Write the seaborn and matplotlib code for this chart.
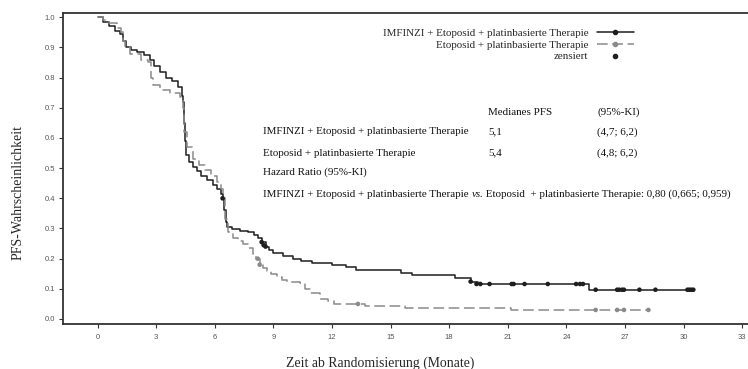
import numpy as np
import pandas as pd
import matplotlib.pyplot as plt
import seaborn as sns
from matplotlib.lines import Line2D

# IMFINZI + Etoposid + platinbasierte Therapie: KM step points (months, PFS)
imf_t = [0, 0.3, 0.6, 0.9, 1.15, 1.3, 1.45, 1.7, 2.0, 2.4, 2.7, 2.9, 3.2, 3.5, 3.8,
         4.1, 4.3, 4.38, 4.45, 4.5, 4.55, 4.7, 4.9, 5.1, 5.3, 5.6, 5.9, 6.1, 6.3,
         6.42, 6.48, 6.55, 6.65, 6.9, 7.3, 7.7, 8.0, 8.2, 8.4, 8.6, 8.8, 9.0, 9.5,
         10.0, 10.4, 11.0, 12.0, 12.7, 13.25, 15.55, 16.1, 18.3, 19.1, 19.5, 25.15, 30.55]
imf_s = [1.0, 0.985, 0.97, 0.955, 0.945, 0.92, 0.90, 0.89, 0.885, 0.875, 0.86, 0.84,
         0.82, 0.80, 0.79, 0.77, 0.74, 0.72, 0.65, 0.59, 0.545, 0.52, 0.505, 0.49,
         0.475, 0.46, 0.445, 0.43, 0.415, 0.40, 0.36, 0.32, 0.305, 0.297, 0.293,
         0.288, 0.28, 0.27, 0.255, 0.24, 0.228, 0.218, 0.21, 0.20, 0.192, 0.186,
         0.179, 0.171, 0.162, 0.151, 0.146, 0.135, 0.124, 0.116, 0.097, 0.097]
imf_cens_t = [6.4, 8.4, 8.5, 8.6, 19.1, 19.4, 19.6, 20.07, 21.2, 21.3, 21.86, 23.05,
              24.5, 24.7, 24.85, 25.5, 26.6, 26.7, 26.85, 26.95, 27.74, 28.56,
              30.2, 30.3, 30.4, 30.5]
imf_cens_s = [0.40, 0.255, 0.245, 0.24, 0.124, 0.116, 0.116, 0.116, 0.116, 0.116,
              0.116, 0.116, 0.116, 0.116, 0.116, 0.097, 0.097, 0.097, 0.097, 0.097,
              0.097, 0.097, 0.097, 0.097, 0.097, 0.097]

# Etoposid + platinbasierte Therapie
eto_t = [0, 0.3, 0.6, 0.97, 1.2, 1.3, 1.4, 1.65, 2.2, 2.6, 2.75, 2.85, 3.2, 3.7, 4.2,
         4.35, 4.45, 4.6, 4.9, 5.2, 5.5, 5.8, 6.1, 6.3, 6.4, 6.5, 6.7, 6.95, 7.2,
         7.45, 7.7, 7.95, 8.1, 8.3, 8.45, 8.65, 8.9, 9.2, 9.45, 9.7, 10.35, 10.6,
         10.9, 11.4, 11.8, 12.1, 13.67, 15.75, 21.15, 28.2]
eto_s = [1.0, 0.99, 0.98, 0.965, 0.95, 0.92, 0.90, 0.88, 0.86, 0.852, 0.80, 0.775,
         0.76, 0.748, 0.737, 0.70, 0.62, 0.57, 0.53, 0.51, 0.495, 0.475, 0.455,
         0.43, 0.40, 0.33, 0.29, 0.27, 0.26, 0.25, 0.235, 0.215, 0.20, 0.18, 0.17,
         0.16, 0.15, 0.14, 0.13, 0.124, 0.118, 0.10, 0.085, 0.065, 0.058, 0.05,
         0.044, 0.035, 0.03, 0.03]
eto_cens_t = [8.2, 8.3, 13.33, 25.5, 26.6, 26.95, 28.2]
eto_cens_s = [0.20, 0.18, 0.05, 0.03, 0.03, 0.03, 0.03]

x_ticks = list(range(0, 34, 3))
y_ticks = [0.0, 0.1, 0.2, 0.3, 0.4, 0.5, 0.6, 0.7, 0.8, 0.9, 1.0]

arm_labels = ["IMFINZI + Etoposid + platinbasierte Therapie",
              "Etoposid + platinbasierte Therapie", "zensiert"]
table_header = ["Medianes PFS", "(95%-KI)"]
table_median = ["5,1", "5,4"]
table_ci = ["(4,7; 6,2)", "(4,8; 6,2)"]

BLACK = "#1e1e1e"
GREY = "#8a8a8a"
SERIF = ["Liberation Serif", "DejaVu Serif"]
FS = 7.9

sns.set_style("ticks")
plt.rcParams["font.family"] = ["Liberation Sans", "DejaVu Sans"]

fig = plt.figure(figsize=(7.48, 3.69), dpi=100)
W, H = 748, 369
ax = fig.add_axes([63 / W, 1 - 324 / H, 1 - 63 / W, (324 - 13) / H])

sns.lineplot(x=imf_t, y=imf_s, ax=ax, color=BLACK, lw=1.1, drawstyle="steps-post",
             estimator=None, sort=False)
sns.lineplot(x=eto_t, y=eto_s, ax=ax, color=GREY, lw=1.1, drawstyle="steps-post",
             estimator=None, sort=False, linestyle=(0, (7, 3)))
sns.scatterplot(x=imf_cens_t, y=imf_cens_s, ax=ax, color=BLACK, s=11,
                edgecolor="none", zorder=3)
sns.scatterplot(x=eto_cens_t, y=eto_cens_s, ax=ax, color=GREY, s=11,
                edgecolor="none", zorder=3)

ax.set_xlim(-1.77, 33.3)
ax.set_ylim(-0.0166, 1.0143)
ax.set_xticks(x_ticks)
ax.set_xticklabels([str(v) for v in x_ticks])
ax.set_yticks(y_ticks)
ax.set_yticklabels([f"{v:.1f}" for v in y_ticks])
ax.tick_params(axis="both", labelsize=5.5, labelcolor="#555555", color="#333333",
               length=3, width=0.8, pad=2.5)
ax.tick_params(axis="x", pad=4)

for side in ["left", "bottom", "top"]:
    ax.spines[side].set_visible(True)
    ax.spines[side].set_color("#333333")
    ax.spines[side].set_linewidth(1.3)
ax.spines["right"].set_visible(False)

ax.set_xlabel("Zeit ab Randomisierung (Monate)", family=SERIF, fontsize=9.9)
ax.set_ylabel("PFS-Wahrscheinlichkeit", family=SERIF, fontsize=10)
ax.xaxis.set_label_coords((380 - 63) / 685, (324 - 363) / 311)
ax.xaxis.label.set_va("center")
ax.yaxis.set_label_coords((18 - 63) / 685, (324 - 193) / 311)
ax.yaxis.label.set_va("center")

handles = [Line2D([], [], color=BLACK, lw=1.1, marker="o", markersize=3),
           Line2D([], [], color=GREY, lw=1.1, linestyle=(0, (7, 3)), marker="o",
                  markersize=3),
           Line2D([], [], color=BLACK, lw=0, marker="o", markersize=3)]
ax.legend(handles, arm_labels, loc="upper right", bbox_to_anchor=(634 / W, 1 - 28 / H),
          bbox_transform=fig.transFigure, frameon=False, markerfirst=False,
          prop={"family": SERIF, "size": FS}, handlelength=3.4, handletextpad=0.75,
          labelspacing=0.2, borderpad=0, borderaxespad=0)

tkw = dict(family=SERIF, fontsize=FS, va="baseline", ha="left", color="#111111")
rows_y = [115, 134.5, 155.5, 175, 197]
fig.text(488 / W, 1 - rows_y[0] / H, table_header[0], **tkw)
fig.text(597 / W, 1 - rows_y[0] / H, table_header[1], **tkw)
fig.text(263 / W, 1 - rows_y[1] / H, arm_labels[0], **tkw)
fig.text(488 / W, 1 - rows_y[1] / H, table_median[0], **tkw)
fig.text(597 / W, 1 - rows_y[1] / H, table_ci[0], **tkw)
fig.text(263 / W, 1 - rows_y[2] / H, arm_labels[1], **tkw)
fig.text(488 / W, 1 - rows_y[2] / H, table_median[1], **tkw)
fig.text(597 / W, 1 - rows_y[2] / H, table_ci[1], **tkw)
fig.text(263 / W, 1 - rows_y[3] / H, "Hazard Ratio (95%-KI)", **tkw)

t1 = fig.text(263 / W, 1 - rows_y[4] / H, arm_labels[0] + " ", **tkw)
t2 = ax.annotate("vs.", xy=(1, 0), xycoords=t1, family=SERIF, fontsize=FS,
                 style="italic", va="bottom", ha="left", color="#111111")
ax.annotate(" Etoposid  + platinbasierte Therapie: 0,80 (0,665; 0,959)", xy=(1, 0),
            xycoords=t2, family=SERIF, fontsize=FS, va="bottom", ha="left",
            color="#111111")

fig.savefig("out.png", dpi=100)
